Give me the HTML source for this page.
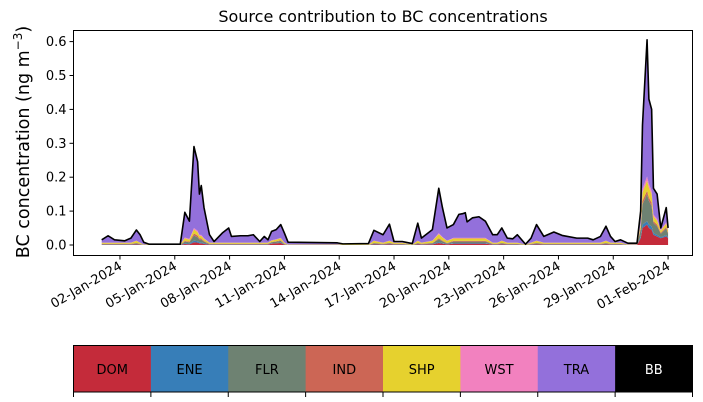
<!DOCTYPE html>
<html><head><meta charset="utf-8"><style>
body{margin:0;background:#fff;}
svg{display:block;font-family:"DejaVu Sans","Liberation Sans",sans-serif;}
</style></head><body>
<svg id="chart" width="703" height="402" viewBox="0 0 703 402" xmlns="http://www.w3.org/2000/svg">
<text x="383" y="22" font-size="16" text-anchor="middle">Source contribution to BC concentrations</text>
<text transform="translate(29,142) rotate(-90)" font-size="17.5" text-anchor="middle">BC concentration (ng m<tspan font-size="12" dy="-7">−3</tspan><tspan dy="7">)</tspan></text>
<g id="plot"></g>
<g id="cbar"></g>
</svg>
<script>
// time in days since 01-Jan-2024 00:00
const days=[0,.35,.7,1.25,1.6,1.9,2.1,2.3,2.6,4.3,4.55,4.8,5.05,5.25,5.35,5.45,5.6,5.9,6.15,6.6,6.95,7.1,7.6,8.0,8.3,8.65,8.9,9.1,9.3,9.55,9.8,10.0,10.2,12.9,13.2,14.6,14.9,15.4,15.75,16.0,16.45,17.0,17.3,17.5,18.1,18.45,18.65,18.9,19.25,19.55,19.75,19.9,20.0,20.3,20.65,21.0,21.4,21.65,21.9,22.2,22.5,22.75,23.2,23.5,23.8,24.2,24.75,25.2,26.0,26.6,26.9,27.3,27.6,27.85,28.1,28.4,28.8,29.3,29.5,29.6,29.85,29.95,30.1,30.2,30.4,30.6,30.9,31.0];
const dom=[.001,.001,.001,.001,.001,.002,.001,0,0,0,.003,.002,.008,.007,.005,.005,.003,.001,.001,.001,.001,.001,.001,.001,.001,.001,.001,.001,.004,.005,.006,.001,0,0,0,0,.002,.001,.002,.001,.001,0,.002,.001,.002,.006,.004,.002,.004,.004,.004,.004,.004,.004,.004,.004,.001,.001,.002,.001,.001,.001,0,.001,.002,.001,.001,.001,.001,.001,.001,.001,.002,.001,.001,.001,0,0,.02,.05,.06,.05,.045,.03,.025,.02,.025,.02];
const ene=[.001,.001,.001,.001,.001,.001,.001,0,0,0,.002,.002,.005,.004,.003,.003,.002,.001,.001,.001,.001,.001,.001,.001,.001,.001,.001,.001,.001,.001,.002,.001,0,0,0,0,.001,.001,.001,.001,.001,0,.001,.001,.001,.003,.002,.001,.002,.002,.002,.002,.002,.002,.002,.002,.001,.001,.001,.001,.001,.001,0,.001,.001,.001,.001,.001,.001,.001,.001,.001,.001,.001,.001,.001,0,0,.005,.01,.01,.01,.01,.005,.005,.003,.004,.003];
const flr=[.001,.001,.001,.001,.001,.002,.001,.0005,.0005,.0005,.005,.004,.015,.012,.008,.008,.005,.001,.001,.001,.001,.001,.001,.001,.001,.001,.001,.001,.003,.004,.004,.001,.0005,.0005,.0005,.0005,.002,.001,.002,.001,.001,.0005,.002,.001,.002,.008,.005,.002,.004,.004,.004,.004,.004,.004,.004,.004,.001,.001,.002,.001,.001,.001,.0005,.001,.002,.001,.001,.001,.001,.001,.001,.001,.002,.001,.001,.001,.0005,.0005,.02,.06,.08,.07,.06,.03,.025,.01,.02,.01];
const ind=[.0005,.0005,.0005,.0005,.0005,.001,.0005,0,0,0,.002,.002,.006,.005,.003,.003,.002,.0005,.0005,.0005,.0005,.0005,.0005,.0005,.0005,.0005,.0005,.0005,.001,.001,.002,.0005,0,0,0,0,.001,.0005,.001,.0005,.0005,0,.001,.0005,.001,.003,.002,.001,.002,.002,.002,.002,.002,.002,.002,.002,.0005,.0005,.001,.0005,.0005,.0005,0,.0005,.001,.0005,.0005,.0005,.0005,.0005,.0005,.0005,.001,.0005,.0005,.0005,0,0,.005,.01,.01,.01,.01,.005,.005,.003,.004,.003];
const shp=[.003,.003,.003,.003,.003,.006,.003,.001,.001,.001,.008,.006,.012,.010,.008,.008,.006,.003,.003,.003,.003,.003,.003,.003,.003,.003,.003,.003,.004,.005,.006,.003,.001,.001,.001,.001,.006,.003,.006,.003,.003,.001,.006,.003,.006,.012,.009,.006,.007,.007,.007,.007,.007,.007,.007,.007,.003,.003,.006,.003,.003,.003,.001,.003,.006,.003,.003,.003,.003,.003,.003,.003,.006,.003,.003,.003,.001,.001,.01,.025,.03,.03,.025,.015,.012,.006,.01,.006];
const wst=[.0005,.0005,.0005,.0005,.0005,.001,.0005,0,0,0,.002,.002,.004,.004,.003,.003,.002,.0005,.0005,.0005,.0005,.0005,.0005,.0005,.0005,.0005,.0005,.0005,.001,.001,.001,.0005,0,0,0,0,.001,.0005,.001,.0005,.0005,0,.001,.0005,.001,.003,.002,.001,.002,.002,.002,.002,.002,.002,.002,.002,.0005,.0005,.001,.0005,.0005,.0005,0,.0005,.001,.0005,.0005,.0005,.0005,.0005,.0005,.0005,.001,.0005,.0005,.0005,0,0,.005,.01,.012,.01,.01,.005,.005,.003,.004,.003];
const tra=[.008,.020,.008,.005,.013,.031,.023,.0065,.0005,.0005,.074,.052,.24,.203,.12,.145,.09,.023,.003,.028,.043,.018,.02,.02,.023,.003,.018,.008,.026,.028,.039,.028,.0065,.0045,.0015,.0025,.03,.023,.048,.003,.003,.0025,.051,.013,.032,.132,.086,.037,.039,.069,.071,.074,.047,.059,.062,.049,.023,.023,.037,.013,.011,.023,.0005,.013,.047,.018,.031,.021,.013,.013,.008,.018,.042,.018,.003,.008,.0035,.0035,.035,.189,.403,.25,.24,.077,.073,.005,.043,.005];
const bb=days.map(()=>0.0003);
const seriesNames=["DOM","ENE","FLR","IND","SHP","WST","TRA","BB"];
const seriesColors=["#c42b3a","#377eb8","#6e8272","#cc6655","#e6d12e","#f281bf","#9370db","#000000"];
const yTicks=[0,0.1,0.2,0.3,0.4,0.5,0.6];
const xTickDays=[1,4,7,10,13,16,19,22,25,28,31];
const xTickLabels=["02-Jan-2024","05-Jan-2024","08-Jan-2024","11-Jan-2024","14-Jan-2024","17-Jan-2024","20-Jan-2024","23-Jan-2024","26-Jan-2024","29-Jan-2024","01-Feb-2024"];

const NS="http://www.w3.org/2000/svg";
const L=73.5,R=692.5,T=30.5,B=255.5;
const xs=d=>101.7+18.27*d;
const ys=v=>245-v*339;
function mk(tag,attrs,parent){const e=document.createElementNS(NS,tag);for(const k in attrs)e.setAttribute(k,attrs[k]);parent.appendChild(e);return e;}
const plot=document.getElementById('plot');
const all=[dom,ene,flr,ind,shp,wst,tra,bb];
let base=days.map(()=>0);
all.forEach((s,si)=>{
  const top=base.map((b,i)=>b+s[i]);
  let dstr="M"+days.map((d,i)=>xs(d).toFixed(2)+","+ys(top[i]).toFixed(2)).join("L");
  for(let i=days.length-1;i>=0;i--)dstr+="L"+xs(days[i]).toFixed(2)+","+ys(base[i]).toFixed(2);
  const p=mk('path',{d:dstr+"Z",fill:seriesColors[si],stroke:"none"},plot);
  
  
  base=top;
});
const line=mk('path',{d:"M"+days.map((d,i)=>xs(d).toFixed(2)+","+ys(base[i]).toFixed(2)).join("L"),fill:"none",stroke:"#000","stroke-width":1.6,"stroke-linejoin":"round"},plot);


const frame=mk('rect',{x:L,y:T,width:R-L,height:B-T,fill:"none",stroke:"#000","stroke-width":1},plot);


yTicks.forEach(v=>{
  const y=ys(v);
  const t=mk('line',{x1:L-4,x2:L,y1:y,y2:y,stroke:"#000"},plot);
  
  
  const tx=mk('text',{x:L-7,y:y+4.5,"font-size":13,"text-anchor":"end"},plot);
  tx.textContent=v.toFixed(1);
  
  
});
xTickDays.forEach((d,i)=>{
  const x=xs(d);
  const t=mk('line',{x1:x,x2:x,y1:B,y2:B+4,stroke:"#000"},plot);
  
  
  const tx=mk('text',{transform:`translate(${x+3},${B+13}) rotate(-30)`,"font-size":13,"text-anchor":"end"},plot);
  tx.textContent=xTickLabels[i];
  
  
});
const cb=document.getElementById('cbar');
const cL=73.5,cR=692.5,cT=345.5,cB=392,w=(cR-cL)/seriesNames.length;
seriesNames.forEach((n,i)=>{
  const r=mk('rect',{x:cL+i*w,y:cT,width:w+0.5,height:cB-cT,fill:seriesColors[i]},cb);
  
  
  const tx=mk('text',{x:cL+i*w+w/2,y:(cT+cB)/2+5,"font-size":13,"text-anchor":"middle",fill:n==="BB"?"#fff":"#000"},cb);
  tx.textContent=n;
  
  
});
for(let i=0;i<=seriesNames.length;i++){
  const t=mk('line',{x1:cL+i*w,x2:cL+i*w,y1:cB,y2:cB+5,stroke:"#000"},cb);
  
  
}
const cf=mk('rect',{x:cL,y:cT,width:cR-cL,height:cB-cT,fill:"none",stroke:"#000"},cb);


</script>
</body></html>
